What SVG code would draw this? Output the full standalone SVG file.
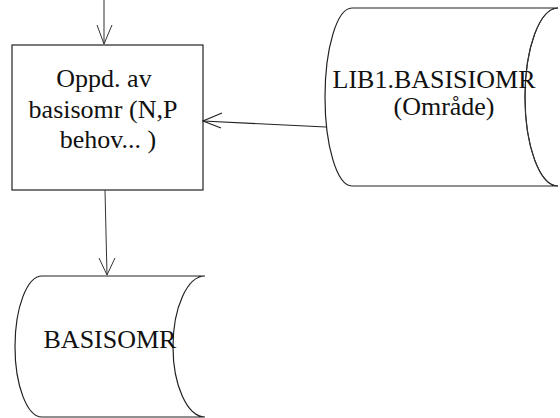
<svg xmlns="http://www.w3.org/2000/svg" width="560" height="418" viewBox="0 0 560 418">
<defs>
<style>
.t{font-family:"Liberation Serif","Times New Roman",serif;font-size:26px;fill:#111;text-anchor:middle}
.s{fill:#fff;stroke:#222;stroke-width:1.2}
.c{fill:none;stroke:#333;stroke-width:1}
.a{fill:none;stroke:#222;stroke-width:1.2}
</style>
</defs>
<rect width="560" height="418" fill="#fff"/>
<g id="proc">
<rect class="s" x="12" y="45" width="191" height="145"/>
<text class="t" x="104" y="87">Oppd. av</text>
<text class="t" x="103" y="118">basisomr (N,P</text>
<text class="t" x="108" y="148">behov... )</text>
</g>
<g id="lib1">
<path class="s" d="M352,8 L558,8 A33,89 0 0 0 558,186 L352,186 A27,89 0 0 1 352,8 Z"/>
<path class="c" d="M558,8 A33,89 0 0 0 558,186"/>
<text class="t" x="434" y="88">LIB1.BASISIOMR</text>
<text class="t" x="444" y="115">(Område)</text>
</g>
<g id="basisomr">
<path class="s" d="M42,276 L205,276 A32,70.5 0 0 0 205,417 L42,417 A27,70.5 0 0 1 42,276 Z"/>
<text class="t" x="110" y="348">BASISOMR</text>
</g>
<g id="connectors">
<path class="c" d="M104,0 L104,44"/>
<path class="c" d="M97,25 L104,44 L112,25"/>
<path class="c" d="M105,190 L107,275"/>
<path class="c" d="M99,258 L107,275 L115,258"/>
<path class="a" d="M326,127 L203,121"/>
<path class="a" d="M222,113 L203,121 L221,128"/>
</g>
</svg>
